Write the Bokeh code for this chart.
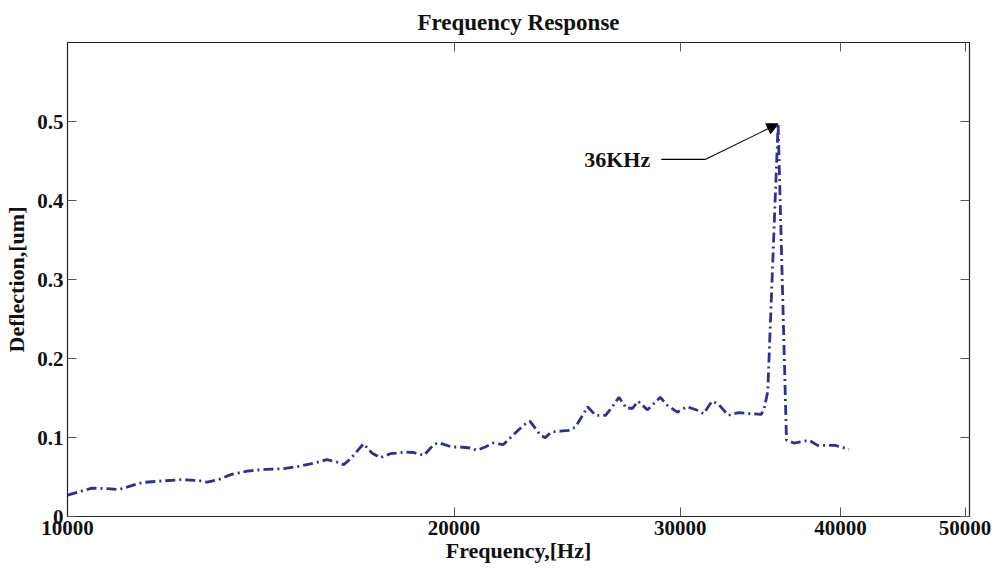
from bokeh.plotting import figure
from bokeh.models import (Range1d, FixedTicker, LogAxis, LinearAxis, Arrow, NormalHead,
                          Label, BasicTickFormatter, ColumnDataSource, CustomJSTickFormatter)
from bokeh.embed import file_html
from bokeh.resources import INLINE

# Data
freq_hz = [10000, 10450, 10800, 10960, 11430, 11850, 12250, 12620, 12850, 13120,
           13400, 13800, 14270, 14740, 15180, 15690, 15920, 16210, 16410, 16610,
           17000, 17270, 17530, 17840, 18340, 18600, 18950, 19280, 19450, 19920,
           20220, 20580, 20840, 21150, 21460, 21850, 22330, 22650, 22920, 23350,
           23550, 23820, 24200, 24560, 24860, 25160, 25410, 25780, 26240, 26540,
           26880, 27240, 27550, 27820, 28290, 28700, 28950, 29300, 29850, 30360,
           31000, 31280, 31760, 32140, 32700, 33320, 34090, 34700, 34880, 35100,
           35760, 36300, 36800, 37800, 38390, 39600, 40600]
deflection_um = [0.027, 0.036, 0.035, 0.034, 0.043, 0.045, 0.0466, 0.0457, 0.0435, 0.047,
                 0.053, 0.0575, 0.0596, 0.0605, 0.0638, 0.069, 0.072, 0.069, 0.0656, 0.073,
                 0.092, 0.080, 0.0745, 0.0795, 0.0816, 0.081, 0.0774, 0.091, 0.0935, 0.088,
                 0.088, 0.0867, 0.0838, 0.088, 0.093, 0.091, 0.106, 0.1155, 0.1205, 0.103,
                 0.0998, 0.107, 0.108, 0.109, 0.113, 0.127, 0.139, 0.128, 0.128, 0.138,
                 0.151, 0.137, 0.137, 0.146, 0.135, 0.145, 0.151, 0.141, 0.132, 0.139,
                 0.134, 0.130, 0.146, 0.142, 0.128, 0.1316, 0.130, 0.1294, 0.137, 0.158,
                 0.497, 0.0965, 0.093, 0.0965, 0.090, 0.090, 0.085]

x_ticks = [10000, 20000, 30000, 40000, 50000]
x_tick_labels = ["10000", "20000", "30000", "40000", "50000"]
y_ticks = [0, 0.1, 0.2, 0.3, 0.4, 0.5]
y_tick_labels = ["0", "0.1", "0.2", "0.3", "0.4", "0.5"]

peak_label = "36KHz"
peak_freq = 35760
peak_val = 0.497
label_freq = [28430]
leader_freq = [29000, 31370]
leader_val = [0.452, 0.452]

FONT = "Liberation Serif"

p = figure(width=993, height=570, x_axis_type="log", output_backend="svg",
           toolbar_location=None, x_range=Range1d(10000, 50400), y_range=Range1d(0, 0.6),
           title="Frequency Response")
p.min_border_left = 67
p.min_border_right = 24
p.min_border_top = 42
p.min_border_bottom = 54
p.background_fill_color = "white"
p.border_fill_color = "white"
p.grid.visible = False
p.outline_line_color = "#222222"
p.outline_line_width = 1.2

p.title.align = "center"
p.title.text_font = FONT
p.title.text_font_style = "bold"
p.title.text_font_size = "23px"
p.title.text_color = "#111111"
p.title.standoff = 15

src = ColumnDataSource(dict(f=freq_hz, d=deflection_um))
p.line("f", "d", source=src, line_color="#2e3192", line_width=2.8, line_dash="10 4 2 4")

def style_axis(ax, show_labels=True):
    ax.major_tick_in = 9
    ax.major_tick_out = 0
    ax.minor_tick_in = 0
    ax.minor_tick_out = 0
    ax.major_tick_line_color = "#555555"
    ax.axis_line_color = "#222222"
    ax.major_label_text_font = FONT
    ax.major_label_text_font_style = "bold"
    ax.major_label_text_font_size = "21px"
    ax.major_label_text_color = "#111111"
    ax.axis_label_text_font = FONT
    ax.axis_label_text_font_style = "bold"
    ax.axis_label_text_font_size = "22px"
    ax.axis_label_text_color = "#111111"
    if not show_labels:
        ax.formatter = CustomJSTickFormatter(code="return '';")
        ax.major_label_standoff = 0
        ax.major_label_text_font_size = "2px"

xax = p.xaxis[0]
xax.ticker = FixedTicker(ticks=x_ticks)
xax.formatter = BasicTickFormatter(use_scientific=False)
xax.major_label_overrides = {t: l for t, l in zip(x_ticks, x_tick_labels)}
xax.axis_label = "Frequency,[Hz]"
xax.major_label_standoff = 4
xax.axis_label_standoff = 0
style_axis(xax)

yax = p.yaxis[0]
yax.ticker = FixedTicker(ticks=y_ticks)
yax.major_label_overrides = {t: l for t, l in zip(y_ticks, y_tick_labels)}
yax.axis_label = "Deflection,[um]"
yax.major_label_standoff = 4
yax.axis_label_standoff = 5
style_axis(yax)

top = LogAxis(ticker=FixedTicker(ticks=x_ticks))
style_axis(top, show_labels=False)
p.add_layout(top, "above")
right = LinearAxis(ticker=FixedTicker(ticks=y_ticks))
style_axis(right, show_labels=False)
p.add_layout(right, "right")

p.line(leader_freq, leader_val, line_color="black", line_width=1.1)
p.add_layout(Arrow(end=NormalHead(size=11, fill_color="black", line_color="black"),
                   x_start=leader_freq[1], y_start=leader_val[1],
                   x_end=peak_freq, y_end=peak_val, line_color="black", line_width=1.1))
p.add_layout(Label(x=label_freq[0], y=leader_val[0], text=peak_label, text_align="right",
                   text_baseline="middle", text_font=FONT, text_font_style="bold",
                   text_font_size="22px", text_color="#111111"))

open("out.html", "w").write(file_html(p, INLINE))
